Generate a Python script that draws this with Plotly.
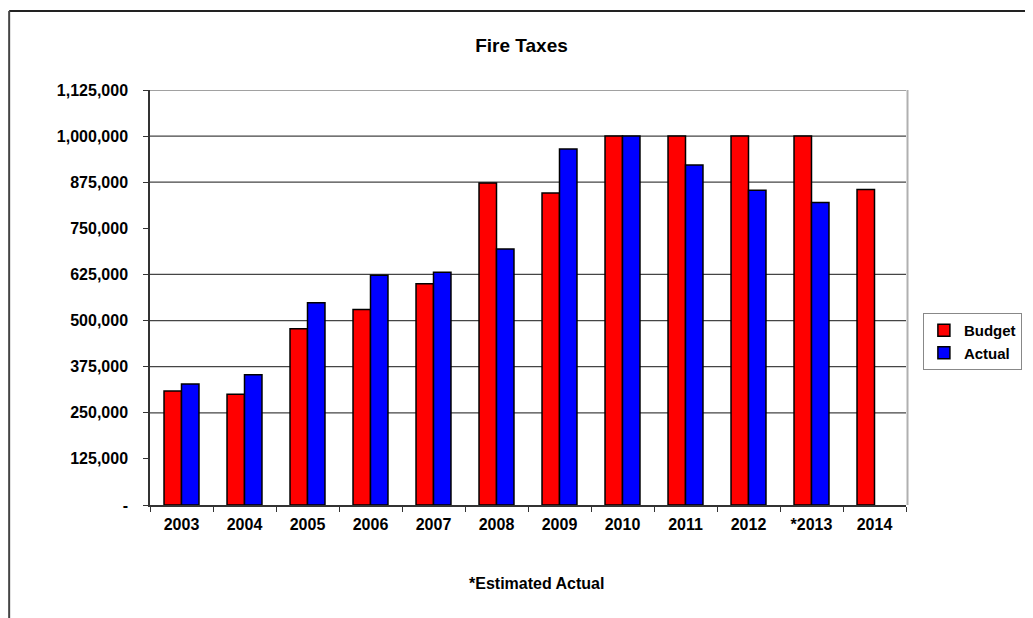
import plotly.graph_objects as go

# ---- data ----
years = ["2003", "2004", "2005", "2006", "2007", "2008", "2009", "2010", "2011", "2012", "*2013", "2014"]
budget = [309000, 300000, 478000, 530000, 600000, 873000, 846000, 1000000, 1000000, 1000000, 1000000, 855000]
actual = [328000, 353000, 548000, 623000, 631000, 694000, 965000, 1000000, 922000, 853000, 820000, None]
tick_values = [0, 125000, 250000, 375000, 500000, 625000, 750000, 875000, 1000000, 1125000]
tick_labels = ["-" if v == 0 else f"{v:,}" for v in tick_values]
grid_values = [250000, 375000, 500000, 625000, 875000, 1000000, 1125000]

FONT = "Liberation Sans, Arial, sans-serif"

fig = go.Figure()
fig.add_trace(go.Bar(name="Budget", x=years, y=budget,
                     marker=dict(color="#FF0000", line=dict(color="black", width=1.5))))
fig.add_trace(go.Bar(name="Actual", x=years, y=actual,
                     marker=dict(color="#0000FF", line=dict(color="black", width=1.5))))

shapes = []
for g in grid_values:
    shapes.append(dict(type="line", xref="paper", yref="y", x0=0, x1=1, y0=g, y1=g,
                       line=dict(color="#454545", width=1.2), layer="below"))
# right border of plot area
shapes.append(dict(type="line", xref="paper", yref="paper", x0=1.002, x1=1.002, y0=0, y1=1,
                   line=dict(color="#b0b0b0", width=2), layer="below"))
# outer frame (top and left)
shapes.append(dict(type="line", xref="paper", yref="paper", x0=-0.1863, x1=1.3, y0=1.1904, y1=1.1904,
                   line=dict(color="#222222", width=2)))
shapes.append(dict(type="line", xref="paper", yref="paper", x0=-0.1863, x1=-0.1863, y0=1.1904, y1=-0.35,
                   line=dict(color="#444444", width=2)))

fig.update_layout(
    width=1025, height=610,
    margin=dict(l=142, r=126, t=82, b=113),
    paper_bgcolor="white", plot_bgcolor="white",
    font=dict(family=FONT, size=16, color="black", weight="bold"),
    title=dict(text="Fire Taxes", x=0.501, xref="container", y=0.939, yref="container",
               xanchor="center", yanchor="middle",
               font=dict(family=FONT, size=19, color="black", weight="bold")),
    barmode="group", bargap=0.445, bargroupgap=0,
    showlegend=True,
    legend=dict(x=1.021, y=0.4627, xanchor="left", yanchor="top",
                bordercolor="#888888", borderwidth=1, bgcolor="white",
                font=dict(family=FONT, size=15, color="black", weight="bold"),
                itemwidth=30, tracegroupgap=0),
    shapes=shapes,
    annotations=[dict(text="*Estimated Actual", xref="paper", yref="paper", x=0.5108, y=-0.188,
                      xanchor="center", yanchor="middle", showarrow=False,
                      font=dict(family=FONT, size=16, color="black", weight="bold"))],
)

fig.update_xaxes(
    type="category", showline=True, linecolor="#333333", linewidth=1.5,
    ticks="outside", tickson="boundaries", ticklen=5, tickcolor="#333333",
    showgrid=False, tickfont=dict(size=16), ticklabelstandoff=4,
)
fig.update_yaxes(
    range=[0, 1125000], tickmode="array", tickvals=tick_values, ticktext=tick_labels,
    showline=True, linecolor="#333333", linewidth=1.5,
    ticks="outside", ticklen=5, tickcolor="#333333",
    showgrid=False, zeroline=False, tickfont=dict(size=16), ticklabelstandoff=12,
)

fig.write_html("out.html")
